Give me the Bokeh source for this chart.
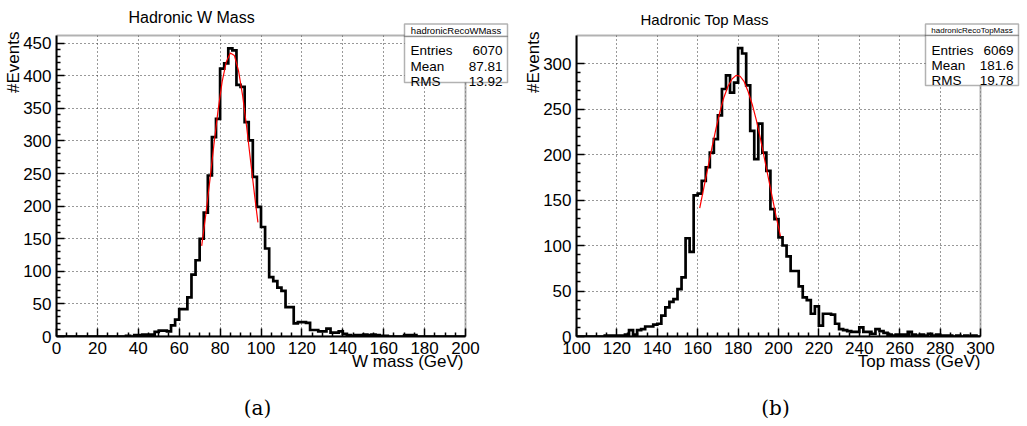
import math
from bokeh.plotting import figure
from bokeh.layouts import row, column
from bokeh.models import Label, BoxAnnotation, Range1d, FixedTicker, Title
from bokeh.embed import file_html
from bokeh.resources import INLINE

FONT = "Liberation Sans"

# ---------------- data ----------------
w_edges = list(range(0, 202, 2))
w_counts = [0, 0, 0, 0, 0, 0, 0, 0, 0, 0,          # 0-18
            0, 0, 0, 0, 0, 0, 0, 1, 0, 2,          # 20-38
            2, 3, 3, 3, 7, 9, 9, 8, 17, 26,        # 40-58
            42, 42, 60, 95, 117, 150, 190, 247, 306, 334,   # 60-78
            411, 419, 442, 439, 386, 383, 329, 301, 245, 199,  # 80-98
            168, 135, 91, 85, 75, 70, 45, 45, 20, 22,       # 100-118
            22, 21, 10, 10, 8, 8, 12, 6, 6, 8,              # 120-138
            4, 2, 1, 2, 2, 3, 2, 3, 2, 1,                   # 140-158
            1, 0, 0, 0, 0, 2, 2, 2, 0, 0,                   # 160-178
            0, 0, 0, 0, 0, 0, 0, 0, 0, 0]                   # 180-198

top_edges = list(range(100, 302, 2))
top_counts = [0, 0, 0, 0, 0, 0, 0, 1, 1, 1,            # 100-118
              1, 1, 2, 7, 2, 7, 8, 11, 11, 13,         # 120-138
              14, 23, 32, 38, 41, 52, 65, 108, 93, 155,  # 140-158
              157, 171, 186, 202, 217, 243, 272, 287, 268, 279,  # 160-178
              317, 311, 276, 226, 195, 234, 202, 182, 140, 129,  # 180-198
              109, 100, 88, 72, 72, 55, 43, 40, 25, 33,   # 200-218
              12, 25, 25, 24, 14, 8, 7, 6, 5, 5,          # 220-238
              10, 5, 5, 3, 8, 6, 4, 2, 1, 2,              # 240-258
              2, 2, 5, 2, 1, 2, 1, 3, 1, 2,               # 260-278
              1, 1, 1, 0, 1, 0, 1, 0, 1, 0]               # 280-298

# red fit curves
w_fit_x = [71, 73, 75, 77, 79, 81, 83, 85, 87, 89, 91, 93, 95, 97, 98.5]
w_fit_y = [139, 187, 240, 295, 347, 391, 421, 435, 431, 408, 370, 321, 267, 213, 175]
top_fit_x = [161, 163, 165, 167, 169, 171, 173, 175, 177, 179, 181, 183, 185, 187,
             189, 191, 193, 195, 197, 199, 201]
top_fit_y = [141, 163, 185, 207, 228, 247, 263, 275, 283, 287, 286, 280, 269, 255,
             238, 218, 196, 174, 152, 130, 110]

w_stats_names = ["Entries", "Mean", "RMS"]
w_stats_vals = ["6070", "87.81", "13.92"]
top_stats_names = ["Entries", "Mean", "RMS"]
top_stats_vals = ["6069", "181.6", "19.78"]

w_yticks = [0, 50, 100, 150, 200, 250, 300, 350, 400, 450]
top_yticks = [0, 50, 100, 150, 200, 250, 300]
w_xticks = [0, 20, 40, 60, 80, 100, 120, 140, 160, 180, 200]
top_xticks = [100, 120, 140, 160, 180, 200, 220, 240, 260, 280, 300]

H = 390      # plot row height
HC = 34      # caption row height


def build(edges, counts, fit_x, fit_y, xlim, ytop, xticks, yticks, fig_x0, width, frame,
          title, title_pos, title_size, xlabel, xlabel_off,
          box, box_div, box_title, box_title_size, names, vals, baselines):
    L, R, T, B = frame
    fig_x1 = fig_x0 + width
    x0, x1 = xlim
    x_end = x0 + (x1 - x0) * (fig_x1 - L) / (R - L)
    y_end = ytop * B / (B - T)
    p = figure(width=width, height=H, x_range=Range1d(x0, x_end), y_range=Range1d(0, y_end),
               output_backend="svg", toolbar_location=None, title=None,
               min_border_left=L - fig_x0, min_border_right=0,
               min_border_top=0, min_border_bottom=H - B)
    p.background_fill_color = "white"
    p.border_fill_color = "white"
    p.outline_line_color = None

    xminor = [x for x in range(int(x0), int(x1) + 1, 5) if x not in xticks]
    yminor = [y for y in range(0, int(max(yticks)) + 1, 10) if y not in yticks]
    p.xaxis.ticker = FixedTicker(ticks=xticks, minor_ticks=xminor)
    p.yaxis.ticker = FixedTicker(ticks=yticks, minor_ticks=yminor)
    p.xaxis.bounds = (x0, x1)
    p.yaxis.bounds = (0, ytop)
    for ax in (p.xaxis[0], p.yaxis[0]):
        ax.axis_line_width = 2
        ax.axis_line_color = "black"
        ax.major_tick_in = 8
        ax.major_tick_out = 0
        ax.minor_tick_in = 4
        ax.minor_tick_out = 0
        ax.major_tick_line_width = 1.5
        ax.minor_tick_line_width = 1.5
        ax.major_tick_line_color = "black"
        ax.minor_tick_line_color = "black"
        ax.major_label_text_font = FONT
        ax.major_label_text_font_size = "17px"
        ax.major_label_text_color = "black"
        ax.major_label_standoff = 5
    for g in (p.xgrid[0], p.ygrid[0]):
        g.grid_line_color = "#333333"
        g.grid_line_dash = "1 3"
        g.grid_line_width = 1

    # white masks outside the drawn frame, then the frame border
    p.add_layout(BoxAnnotation(left=x1, fill_color="white", fill_alpha=1, line_alpha=0,
                               level="underlay"))
    p.add_layout(BoxAnnotation(bottom=ytop, fill_color="white", fill_alpha=1, line_alpha=0,
                               level="underlay"))
    p.add_layout(BoxAnnotation(left=x0, right=x1, bottom=0, top=ytop, fill_alpha=0,
                               line_color="black", line_width=2, level="underlay"))

    p.step(edges, counts + [counts[-1]], mode="after", line_width=2.7, color="black",
           line_join="miter")
    p.line(fit_x, fit_y, line_width=1.2, color="red")

    def sx(x):
        return x - L

    def sy(y):
        return B - y

    p.add_layout(Label(x=sx(title_pos[0]), y=sy(title_pos[1]), x_units="screen", y_units="screen",
                       text=title, text_font=FONT, text_font_size=title_size,
                       text_align="left", text_baseline="alphabetic", text_color="black"))

    bx0, by0, bx1, by1 = box
    p.add_layout(BoxAnnotation(left=sx(bx0), right=sx(bx1), top=sy(by0), bottom=sy(box_div),
                               left_units="screen", right_units="screen",
                               top_units="screen", bottom_units="screen",
                               fill_color="white", fill_alpha=1, line_color="black",
                               line_width=1.5, level="overlay"))
    p.add_layout(BoxAnnotation(left=sx(bx0), right=sx(bx1), top=sy(box_div), bottom=sy(by1),
                               left_units="screen", right_units="screen",
                               top_units="screen", bottom_units="screen",
                               fill_color="white", fill_alpha=1, line_color="black",
                               line_width=1.5, level="overlay"))
    p.add_layout(Label(x=sx((bx0 + bx1) / 2), y=sy((by0 + box_div) / 2 + 0.5), x_units="screen",
                       y_units="screen", text=box_title, text_font=FONT,
                       text_font_size=box_title_size, text_align="center",
                       text_baseline="middle", text_color="black", level="overlay"))
    for n, v, b in zip(names, vals, baselines):
        p.add_layout(Label(x=sx(bx0 + 6), y=sy(b), x_units="screen", y_units="screen",
                           text=n, text_font=FONT, text_font_size="13.5px", level="overlay",
                           text_align="left", text_baseline="alphabetic", text_color="black"))
        p.add_layout(Label(x=sx(bx1 - 5), y=sy(b), x_units="screen", y_units="screen",
                           text=v, text_font=FONT, text_font_size="13.5px", level="overlay",
                           text_align="right", text_baseline="alphabetic", text_color="black"))

    # texts outside the frame: panel titles
    p.add_layout(Title(text="#Events", align="right", offset=31, standoff=-4,
                       text_font=FONT, text_font_size="17px", text_font_style="normal",
                       text_color="black"), "left")
    p.add_layout(Title(text=xlabel, align="right", offset=xlabel_off, standoff=-14,
                       text_font=FONT, text_font_size="17px", text_font_style="normal",
                       text_color="black"), "below")
    return p


def caption_fig(width, text, cx):
    c = figure(width=width, height=HC, x_range=Range1d(0, width), y_range=Range1d(0, HC),
               output_backend="svg", toolbar_location=None, title=None,
               x_axis_type=None, y_axis_type=None, min_border=0)
    c.outline_line_color = None
    c.background_fill_color = "white"
    c.border_fill_color = "white"
    c.add_layout(Label(x=cx, y=HC - 17, text=text, text_font="DejaVu Serif",
                       text_font_size="20px", text_align="center", text_baseline="middle",
                       text_color="black"))
    return c


p1 = build(w_edges, w_counts, w_fit_x, w_fit_y, (0, 200), 461.8, w_xticks, w_yticks,
           0, 514, (56, 465, 35, 336),
           "Hadronic W Mass", (128, 17), "16px", "W mass (GeV)", 51,
           (404, 23.5, 507, 82), 36, "hadronicRecoWMass", "9.5px",
           w_stats_names, w_stats_vals, [50, 65.5, 80.5])

p2 = build(top_edges, top_counts, top_fit_x, top_fit_y, (100, 300), 330.8, top_xticks,
           top_yticks, 514, 512, (576, 980, 35, 336),
           "Hadronic Top Mass", (640, 19), "15px", "Top mass (GeV)", 46,
           (925, 23.5, 1018, 85), 35, "hadronicRecoTopMass", "8px",
           top_stats_names, top_stats_vals, [49.5, 64.5, 80])

c1 = caption_fig(514, "(a)", 257)
c2 = caption_fig(512, "(b)", 775 - 514)

layout = column(row(p1, p2), row(c1, c2))
open("out.html", "w").write(file_html(layout, INLINE))
